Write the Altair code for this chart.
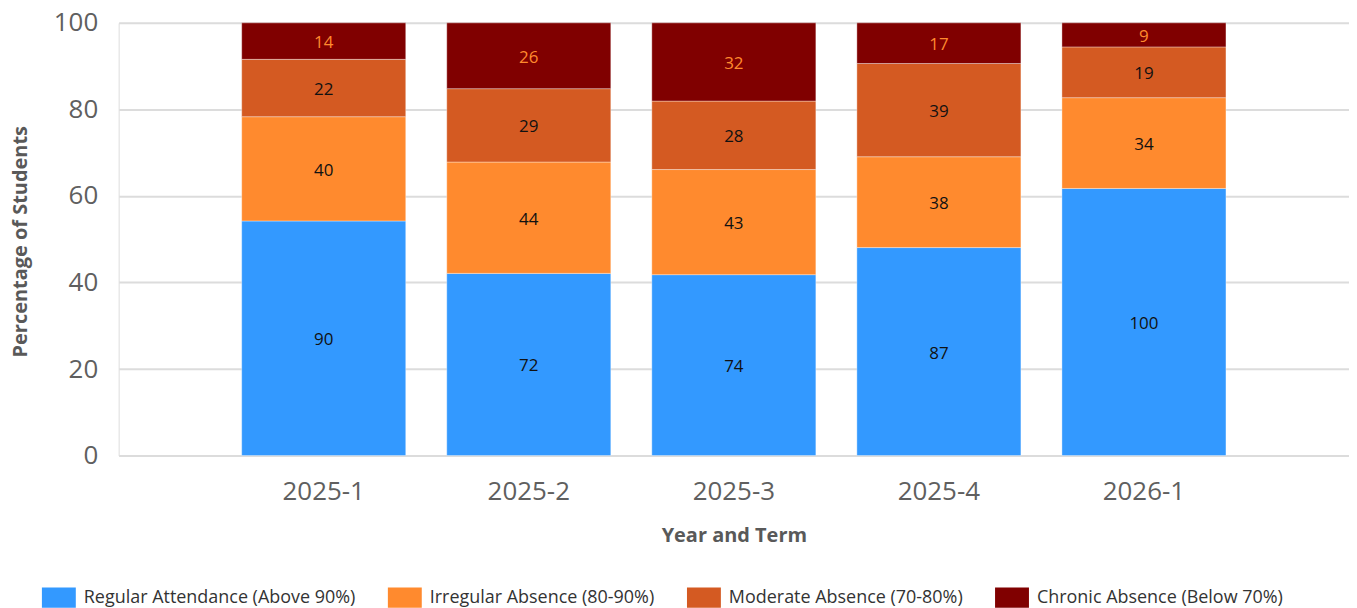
import altair as alt
import pandas as pd

terms = ["2025-1", "2025-2", "2025-3", "2025-4", "2026-1"]
categories = [
    "Regular Attendance (Above 90%)",
    "Irregular Absence (80-90%)",
    "Moderate Absence (70-80%)",
    "Chronic Absence (Below 70%)",
]
regular = [90, 72, 74, 87, 100]
irregular = [40, 44, 43, 38, 34]
moderate = [22, 29, 28, 39, 19]
chronic = [14, 26, 32, 17, 9]
colors = ["#3399ff", "#ff8a2e", "#d45a22", "#800000"]
y_ticks = [0, 20, 40, 60, 80, 100]

rows = []
for i, t in enumerate(terms):
    for k, (cat, vals) in enumerate(zip(categories, [regular, irregular, moderate, chronic])):
        rows.append({"term": t, "category": cat, "count": vals[i], "order": k})
df = pd.DataFrame(rows)

FONT = "Open Sans"

base = (
    alt.Chart(df)
    .transform_joinaggregate(total="sum(count)", groupby=["term"])
    .transform_calculate(pct="datum.count / datum.total * 100")
    .transform_stack(stack="pct", groupby=["term"], sort=[alt.SortField("order")], as_=["y0", "y1"])
    .transform_calculate(mid="(datum.y0 + datum.y1) / 2")
)

x_enc = alt.X(
    "term:N",
    sort=terms,
    scale=alt.Scale(paddingInner=0.2, paddingOuter=0.6),
    axis=alt.Axis(
        title="Year and Term",
        labelAngle=0,
        labelFontSize=26,
        labelColor="#5f5f5f",
        labelFont=FONT,
        labelPadding=23,
        ticks=False,
        tickSize=0,
        domain=False,
        grid=False,
        titleFont=FONT,
        titleFontSize=20,
        titleFontWeight="bold",
        titleColor="#595959",
        titleBaseline="alphabetic",
        titleY=86,
    ),
)

bars = base.mark_bar(stroke="white", strokeWidth=0.6, strokeOpacity=0.6).encode(
    x=x_enc,
    y=alt.Y(
        "y0:Q",
        scale=alt.Scale(domain=[0, 100], nice=False),
        axis=alt.Axis(
            title="Percentage of Students",
            values=y_ticks,
            labelFontSize=26,
            labelColor="#5f5f5f",
            labelFont=FONT,
            labelPadding=21,
            ticks=False,
            tickSize=0,
            domain=False,
            grid=True,
            gridColor="#dcdcdc",
            gridWidth=2,
            titleFont=FONT,
            titleFontSize=20,
            titleFontWeight="bold",
            titleColor="#595959",
            titleBaseline="alphabetic",
            titleAngle=270,
            titleX=-92,
            titleY=219,
        ),
    ),
    y2="y1:Q",
    color=alt.Color(
        "category:N",
        sort=categories,
        scale=alt.Scale(domain=categories, range=colors),
        legend=alt.Legend(
            title=None,
            orient="none",
            direction="horizontal",
            columns=4,
            legendX=-77,
            legendY=559,
            symbolType="M-1,-0.6H1V0.6H-1Z",
            symbolSize=1156,
            symbolStrokeWidth=0,
            symbolOpacity=1,
            labelFont=FONT,
            labelFontSize=18,
            labelColor="#333333",
            labelOffset=8,
            columnPadding=32,
            labelLimit=400,
        ),
    ),
)

labels = base.mark_text(font=FONT, fontSize=17, baseline="middle", align="center", dy=2).encode(
    x=alt.X("term:N", sort=terms),
    y=alt.Y("mid:Q"),
    text=alt.Text("count:Q"),
    color=alt.condition(
        alt.datum.category == categories[3], alt.value("#ff8a2e"), alt.value("#111111")
    ),
)

chart = (
    alt.layer(bars, labels)
    .properties(
        width=1234,
        height=434,
        autosize=alt.AutoSizeParams(type="none"),
        padding={"left": 111, "top": 14, "right": 0, "bottom": 160},
    )
    .configure_view(stroke=None)
    .configure(font=FONT)
)

chart.save("out.html", embed_options={"renderer": "svg", "actions": False})
